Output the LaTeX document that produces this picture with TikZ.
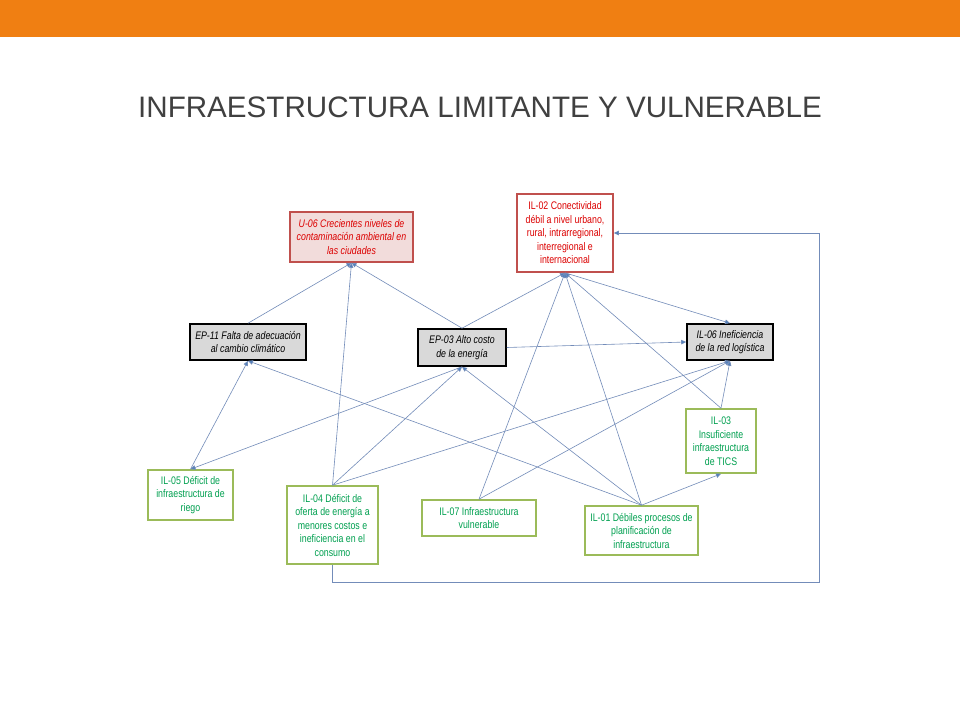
\documentclass[tikz,border=0pt]{standalone}
\usepackage{fontspec}
\setmainfont{Liberation Sans}
\newfontfamily\nf[FakeStretch=0.8]{Liberation Sans}
\newfontfamily\tf{Liberation Sans}
\usetikzlibrary{arrows.meta}
\definecolor{orangebar}{RGB}{240,127,18}
\definecolor{titlegray}{RGB}{64,64,64}
\definecolor{redtxt}{RGB}{220,0,0}
\definecolor{redborder}{RGB}{192,80,77}
\definecolor{pinkfill}{RGB}{242,220,219}
\definecolor{greenborder}{RGB}{155,187,89}
\definecolor{greentxt}{RGB}{0,160,80}
\definecolor{grayfill}{RGB}{217,217,217}
\definecolor{linkcol}{RGB}{115,140,185}
\definecolor{headcol}{RGB}{79,129,189}
\tikzset{
  basebox/.style={rectangle, align=center, inner sep=1pt, line width=1.6pt,
    font=\nf\fontsize{11}{13.5}\selectfont},
  redfill/.style={basebox, draw=redborder, fill=pinkfill, text=redtxt, font=\nf\itshape\fontsize{11}{13.5}\selectfont},
  redbox/.style={basebox, draw=redborder, fill=white, text=redtxt},
  graybox/.style={basebox, draw=black, fill=grayfill, text=black, font=\nf\itshape\fontsize{11}{13.5}\selectfont},
  greenbox/.style={basebox, draw=greenborder, fill=white, text=greentxt},
  link/.style={draw=linkcol, line width=0.6pt, -{Triangle[length=5pt,width=4.5pt,fill=headcol]}},
}
\begin{document}
\begin{tikzpicture}[x=1pt,y=-1pt]
\useasboundingbox (0,0) rectangle (960,720);
\fill[white] (0,0) rectangle (960,720);
\fill[orangebar] (0,0) rectangle (960,37);
\node[text=titlegray, font=\tf\fontsize{29.6}{30}\selectfont] (title) at (480,107) {INFRAESTRUCTURA LIMITANTE Y VULNERABLE};

\node[redfill, minimum width=123, minimum height=50] (u06) at (351.5,237)
  {U-06 Crecientes niveles de\\contaminación ambiental en\\las ciudades};
\node[redbox, minimum width=96, minimum height=78] (il02) at (565,233)
  {IL-02 Conectividad\\débil a nivel urbano,\\rural, intrarregional,\\interregional e\\internacional};
\node[graybox, minimum width=116, minimum height=36] (ep11) at (248,342)
  {EP-11 Falta de adecuación\\al cambio climático};
\node[graybox, minimum width=88, minimum height=37] (ep03) at (462,347.5)
  {EP-03 Alto costo\\de la energía};
\node[graybox, minimum width=86, minimum height=36] (il06) at (730,342)
  {IL-06 Ineficiencia\\de la red logística};
\node[greenbox, minimum width=85, minimum height=50] (il05) at (190.5,495)
  {IL-05 Déficit de\\infraestructura de\\riego};
\node[greenbox, minimum width=91, minimum height=78] (il04) at (332.5,525)
  {IL-04 Déficit de\\oferta de energía a\\menores costos e\\ineficiencia en el\\consumo};
\node[greenbox, minimum width=114, minimum height=36] (il07) at (479,518)
  {IL-07 Infraestructura\\vulnerable};
\node[greenbox, minimum width=113, minimum height=49] (il01) at (641.5,530.5)
  {IL-01 Débiles procesos de\\planificación de\\infraestructura};
\node[greenbox, minimum width=70, minimum height=64] (il03) at (721,441)
  {IL-03\\Insuficiente\\infraestructura\\de TICS};

\coordinate (c1) at (819,582);

\draw[link] (ep11.north) -- (u06.south);
\draw[link] (ep03.north) -- (u06.south);
\draw[link] (il04.north) -- (u06.south);
\draw[link] (ep03.north) -- (il02.south);
\draw[link] (il07.north) -- (il02.south);
\draw[link] (il01.north) -- (il02.south);
\draw[link] (il03.north) -- (il02.south);
\draw[link] (il02.south) -- (il06.north);
\draw[link] (ep03.east) -- (il06.west);
\draw[link] (il05.north) -- (ep11.south);
\draw[link] (il01.north) -- (ep11.south);
\draw[link] (il04.north) -- (ep03.south);
\draw[link] (il01.north) -- (ep03.south);
\draw[link] (ep03.south) -- (il05.north);
\draw[link] (il04.north) -- (il06.south);
\draw[link] (il07.north) -- (il06.south);
\draw[link] (il03.north) -- (il06.south);
\draw[link] (il01.north) -- (il03.south);
\draw[link] (il04.south) |- (c1) |- (il02.east);
\end{tikzpicture}
\end{document}
